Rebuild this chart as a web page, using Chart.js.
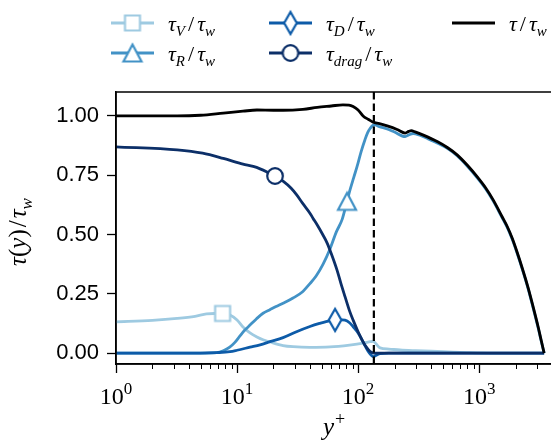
<!DOCTYPE html>
<html lang="en">
<head>
<meta charset="UTF-8">
<title>Shear stress budget</title>
<script src="https://cdn.jsdelivr.net/npm/chart.js"></script>
<style>
  html, body { margin: 0; padding: 0; background: #fff; overflow: hidden; }
</style>
</head>
<body>
<canvas id="stressChart" width="556" height="441"></canvas>
<script>
// values (y+ on a log axis, stress / wall stress)
const yPlusV = [1, 2, 3.2, 4.5, 5.6, 6.5, 7.6, 8.75, 10, 11.2, 12.8, 14.6, 16.4, 18.7, 24, 29, 40, 58.7, 85, 110, 126, 133, 140, 152, 180, 222, 300, 504, 800, 1200, 3444];
const tauV = [0.132, 0.138, 0.146, 0.155, 0.165, 0.167, 0.167, 0.161, 0.14, 0.11, 0.085, 0.068, 0.056, 0.047, 0.032, 0.027, 0.024, 0.026, 0.034, 0.042, 0.048, 0.05, 0.04, 0.022, 0.017, 0.013, 0.01, 0.006, 0.002, 0, 0];

const yPlusR = [1, 5, 6.8, 7.7, 8.7, 9.6, 10.5, 11.5, 12.8, 14.5, 16.4, 18.7, 21, 24, 29, 35, 40, 45, 51.4, 58.7, 66, 74, 81, 86, 92, 98, 106, 114, 120, 126, 132, 138, 150, 174, 200, 245, 262, 285, 320, 380, 450, 550, 658, 800, 962, 1130, 1306, 1549, 1703, 1874, 2061, 2266, 2541, 2794, 3075, 3253, 3444];
const tauR = [0, 0, 0.002, 0.01, 0.025, 0.045, 0.07, 0.095, 0.118, 0.145, 0.168, 0.183, 0.196, 0.21, 0.232, 0.26, 0.293, 0.325, 0.375, 0.44, 0.51, 0.565, 0.64, 0.69, 0.74, 0.786, 0.85, 0.9, 0.93, 0.948, 0.96, 0.962, 0.955, 0.945, 0.932, 0.913, 0.92, 0.926, 0.92, 0.903, 0.886, 0.862, 0.832, 0.788, 0.74, 0.693, 0.642, 0.571, 0.531, 0.481, 0.421, 0.356, 0.271, 0.191, 0.106, 0.052, 0.0];

const yPlusD = [1, 5, 6.8, 8.75, 10, 12.8, 15.5, 18.7, 24, 31, 40, 48, 58.7, 64.6, 73.8, 78, 85, 91, 100, 108, 115, 121, 128, 133, 140, 152, 180, 3444];
const tauD = [0, 0, 0.002, 0.006, 0.012, 0.025, 0.035, 0.048, 0.065, 0.09, 0.112, 0.125, 0.137, 0.14, 0.14, 0.139, 0.128, 0.111, 0.085, 0.055, 0.028, 0.008, -0.008, -0.015, -0.01, -0.002, 0, 0];

const yPlusDrag = [1, 3.2, 5.2, 7.7, 11.2, 13.6, 15.5, 18, 20.6, 24, 28, 31, 35, 40, 42.5, 46, 51, 55.4, 60, 67, 72, 78, 85, 91, 100, 108, 117, 126, 135, 144, 3444];
const tauDrag = [0.87, 0.857, 0.843, 0.821, 0.797, 0.787, 0.777, 0.762, 0.747, 0.725, 0.695, 0.668, 0.63, 0.59, 0.568, 0.54, 0.5, 0.465, 0.42, 0.35, 0.295, 0.238, 0.178, 0.139, 0.09, 0.055, 0.025, 0.006, 0, 0, 0];

const yPlusTotal = [1, 3.2, 5, 7.7, 11.2, 14.6, 20, 24, 35, 46, 60, 75, 84, 91, 100, 110, 122, 133, 150, 174, 210, 245, 262, 275, 296, 350, 450, 550, 658, 800, 962, 1130, 1306, 1549, 1703, 1874, 2061, 2266, 2541, 2794, 3075, 3253, 3444];
const tauTotal = [1.0, 1.0, 1.003, 1.012, 1.02, 1.025, 1.024, 1.024, 1.028, 1.036, 1.042, 1.047, 1.046, 1.04, 1.025, 1.0, 0.985, 0.974, 0.968, 0.958, 0.943, 0.928, 0.935, 0.938, 0.933, 0.918, 0.892, 0.866, 0.836, 0.792, 0.744, 0.697, 0.646, 0.575, 0.535, 0.485, 0.425, 0.36, 0.275, 0.195, 0.11, 0.055, 0.0];

// where the single marker of each curve sits
const markV = 7.6, markR = 81, markD = 64.6, markDrag = 20.6;
const yPlusLine = 135;   // dashed vertical line

const xMajor = [1, 10, 100, 1000];
const xMin = 1, xMax = 4000;
const yTicks = [0, 0.25, 0.5, 0.75, 1.0];
const yMin = -0.046, yMax = 1.101;

const cV = '#9ecae1', cR = '#4292c6', cD = '#0d5ba8', cDrag = '#0c2f68', cTot = '#000000';

function pts(xs, ys) { return xs.map((x, i) => ({ x: x, y: ys[i] })); }

function makeMarker(shape, color) {
    const c = document.createElement('canvas');
    c.width = 28; c.height = 28;
    const g = c.getContext('2d');
    g.translate(14, 14);
    g.beginPath();
    if (shape === 'square') g.rect(-7.5, -7.5, 15, 15);
    else if (shape === 'circle') g.arc(0, 0, 7.8, 0, Math.PI * 2);
    else if (shape === 'triangle') { g.moveTo(0, -8.5); g.lineTo(9, 8.5); g.lineTo(-9, 8.5); g.closePath(); }
    else { g.moveTo(0, -11); g.lineTo(6.3, 0); g.lineTo(0, 11); g.lineTo(-6.3, 0); g.closePath(); }
    g.fillStyle = '#fff'; g.fill();
    g.lineWidth = 2.2; g.strokeStyle = color; g.stroke();
    return c;
}
const mkV = makeMarker('square', cV), mkR = makeMarker('triangle', cR),
      mkD = makeMarker('diamond', cD), mkDrag = makeMarker('circle', cDrag);

function series(xs, ys, color, mk, markAt, order) {
    return {
        data: pts(xs, ys), borderColor: color, borderWidth: 2.8, order: order,
        cubicInterpolationMode: 'monotone', pointStyle: mk,
        pointRadius: c => (mk && c.raw && c.raw.x === markAt) ? 8 : 0
    };
}

// draw a run of text pieces: [text, font, dy, extraGap]
function drawParts(ctx, parts, x, y, align) {
    let w = 0;
    parts.forEach(p => { ctx.font = p[1]; w += ctx.measureText(p[0]).width + (p[3] || 0); });
    let cx = align === 'center' ? x - w / 2 : x;
    ctx.textAlign = 'left'; ctx.textBaseline = 'alphabetic';
    parts.forEach(p => {
        ctx.font = p[1];
        ctx.fillText(p[0], cx, y + (p[2] || 0));
        cx += ctx.measureText(p[0]).width + (p[3] || 0);
    });
}

const M = 'italic 22px "Liberation Serif"', S = 'italic 15px "Liberation Serif"', U = '22px "Liberation Serif"';
const legendRows = [23, 53];
const legendCols = [111, 269, 452];
const legendItems = [
    { col: 0, row: 0, color: cV, mk: mkV, parts: [['τ', M], ['V', S, 5, 3], ['/', U, 0, 3], ['τ', M], ['w', S, 5]] },
    { col: 0, row: 1, color: cR, mk: mkR, parts: [['τ', M], ['R', S, 5, 3], ['/', U, 0, 3], ['τ', M], ['w', S, 5]] },
    { col: 1, row: 0, color: cD, mk: mkD, parts: [['τ', M], ['D', S, 5, 3], ['/', U, 0, 3], ['τ', M], ['w', S, 5]] },
    { col: 1, row: 1, color: cDrag, mk: mkDrag, parts: [['τ', M], ['drag', S, 5, 3], ['/', U, 0, 3], ['τ', M], ['w', S, 5]] },
    { col: 2, row: 0, color: cTot, mk: null, parts: [['τ', M, 0, 3], ['/', U, 0, 3], ['τ', M], ['w', S, 5]] }
];

const decor = {
    id: 'decor',
    afterDatasetsDraw(chart) {
        const ctx = chart.ctx, a = chart.chartArea, xs = chart.scales.x;
        ctx.save();
        // frame
        ctx.strokeStyle = '#000'; ctx.lineWidth = 1.5;
        ctx.strokeRect(a.left, a.top, a.right - a.left, a.bottom - a.top);
        // minor ticks on the log axis
        ctx.lineWidth = 1;
        for (let d = 1; d <= 1000; d *= 10) {
            for (let m = 2; m <= 9; m++) {
                const v = d * m;
                if (v > xMax) continue;
                const px = Math.round(xs.getPixelForValue(v)) + 0.5;
                ctx.beginPath(); ctx.moveTo(px, a.bottom); ctx.lineTo(px, a.bottom + 5); ctx.stroke();
            }
        }
        // x tick labels 10^k
        ctx.fillStyle = '#000';
        xMajor.forEach(v => {
            const k = Math.round(Math.log10(v));
            drawParts(ctx, [['10', '24px "Liberation Serif"'], [String(k), '17px "Liberation Serif"', -10]],
                xs.getPixelForValue(v), 404, 'center');
        });
        // axis titles
        drawParts(ctx, [['y', 'italic 25px "Liberation Serif"', 0, 1], ['+', '18px "Liberation Serif"', -10]],
            (a.left + a.right) / 2, 435, 'center');
        ctx.translate(26, (a.top + a.bottom) / 2 + 4);
        ctx.rotate(-Math.PI / 2);
        drawParts(ctx, [['τ', 'italic 25px "Liberation Serif"'], ['(', '25px "Liberation Serif"'],
            ['y', 'italic 25px "Liberation Serif"'], [')', '25px "Liberation Serif"', 0, 2],
            ['/', '25px "Liberation Serif"', 0, 2], ['τ', 'italic 25px "Liberation Serif"'],
            ['w', 'italic 17px "Liberation Serif"', 6]], 0, 0, 'center');
        ctx.restore();

        // legend
        ctx.save();
        legendItems.forEach(it => {
            const x0 = legendCols[it.col], y0 = legendRows[it.row];
            ctx.strokeStyle = it.color; ctx.lineWidth = 2.8;
            ctx.beginPath(); ctx.moveTo(x0, y0); ctx.lineTo(x0 + 43, y0); ctx.stroke();
            if (it.mk) ctx.drawImage(it.mk, x0 + 21.5 - 14, y0 - 14);
            ctx.fillStyle = '#000';
            drawParts(ctx, it.parts, x0 + 57, y0 + 8, 'left');
        });
        ctx.restore();
    }
};

new Chart(document.getElementById('stressChart').getContext('2d'), {
    type: 'line',
    data: {
        datasets: [
            series(yPlusV, tauV, cV, mkV, markV, 5),
            series(yPlusR, tauR, cR, mkR, markR, 4),
            series(yPlusD, tauD, cD, mkD, markD, 3),
            series(yPlusDrag, tauDrag, cDrag, mkDrag, markDrag, 2),
            series(yPlusTotal, tauTotal, cTot, null, null, 1),
            { data: [{ x: yPlusLine, y: yMin }, { x: yPlusLine, y: yMax }], borderColor: '#000',
              borderWidth: 2.2, borderDash: [7.5, 4], pointRadius: 0, order: 0 }
        ]
    },
    options: {
        responsive: false,
        devicePixelRatio: 1,
        animation: false,
        layout: { padding: { top: 92, right: 4, bottom: 0, left: 0 } },
        plugins: { legend: { display: false }, tooltip: { enabled: false } },
        scales: {
            x: {
                type: 'logarithmic', min: xMin, max: xMax,
                afterFit: s => { s.height = 77; },
                afterBuildTicks: s => { s.ticks = xMajor.map(v => ({ value: v })); },
                ticks: { display: false },
                grid: { drawOnChartArea: false, tickLength: 9, tickWidth: 1.3, tickColor: '#000' },
                border: { color: '#000', width: 1.5 }
            },
            y: {
                min: yMin, max: yMax,
                afterFit: s => { s.width = 116; },
                afterBuildTicks: s => { s.ticks = yTicks.map(v => ({ value: v })); },
                ticks: { callback: v => Number(v).toFixed(2), color: '#000', padding: 8,
                         font: { family: 'Liberation Sans', size: 22 } },
                grid: { drawOnChartArea: false, tickLength: 9, tickWidth: 1.3, tickColor: '#000' },
                border: { color: '#000', width: 1.5 }
            }
        }
    },
    plugins: [decor]
});
</script>
</body>
</html>
